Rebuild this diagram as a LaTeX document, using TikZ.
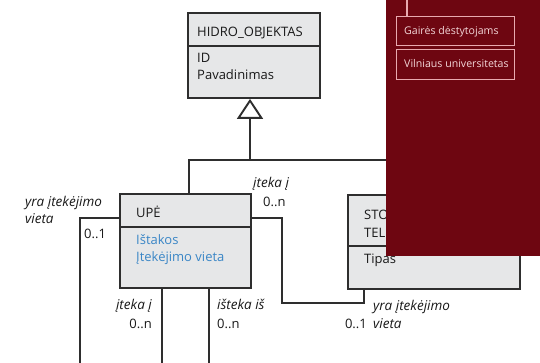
\documentclass[tikz,border=0pt]{standalone}
\usepackage{fontspec}
\setmainfont{Open Sans}
\usetikzlibrary{arrows.meta}
\definecolor{boxfill}{HTML}{E6E7E8}
\definecolor{linec}{HTML}{2E2E2E}
\definecolor{attrblue}{HTML}{3A86C6}
\definecolor{panelred}{HTML}{6E0611}
\definecolor{panelline}{HTML}{E8A9AF}
\definecolor{paneltext}{HTML}{F3D6D8}
\begin{document}
\begin{tikzpicture}[x=1pt,y=-1pt,
  box/.style={draw=linec, fill=boxfill, line width=1.9pt, inner sep=0pt, anchor=north west},
  conn/.style={draw=linec, line width=1.9pt},
  txt/.style={font=\fontsize{13}{15}\selectfont, inner sep=0pt, text=black!90},
  attr/.style={font=\fontsize{13}{15}\selectfont, inner sep=0pt, text=attrblue},
  lbl/.style={font=\fontsize{13.5}{15}\selectfont\itshape, inner sep=0pt, text=black!90},
  pbox/.style={draw=panelline, line width=1.1pt, fill=panelred, inner sep=0pt, anchor=north west,
    minimum width=118pt, minimum height=29pt},
  ptxt/.style={font=\fontsize{10.6}{12}\selectfont, inner sep=0pt, text=paneltext, anchor=base west},
]
\useasboundingbox (0,0) rectangle (540,363);
\clip (0,0) rectangle (540,363);
\fill[white] (0,0) rectangle (540,363);

% boxes
\node[box, minimum width=132pt, minimum height=33pt] (hidroH) at (187,12) {};
\node[box, minimum width=132pt, minimum height=52pt] (hidroB) at (187,45) {};
\node[box, minimum width=131pt, minimum height=33pt] (upeH) at (119,193) {};
\node[box, minimum width=131pt, minimum height=61pt] (upeB) at (119,226) {};
\node[box, minimum width=172pt, minimum height=51pt] (stoH) at (347,194) {};
\node[box, minimum width=172pt, minimum height=43pt] (stoB) at (347,245) {};

% box texts
\node[txt, anchor=base west] (hidroT) at (197,36.5) {HIDRO\_OBJEKTAS};
\node[txt, anchor=base west] (hidroA1) at (197,62.5) {ID};
\node[txt, anchor=base west] (hidroA2) at (197,79.5) {Pavadinimas};
\node[txt, anchor=base west] (upeT) at (136,217.5) {UPĖ};
\node[attr, anchor=base west] (upeA1) at (136,244) {Ištakos};
\node[attr, anchor=base west] (upeA2) at (136,261) {Įtekėjimo vieta};
\node[txt, anchor=base west] (stoT1) at (364,220) {STO};
\node[txt, anchor=base west] (stoT2) at (364,237) {TEL};
\node[txt, anchor=base west] (stoA) at (364,263) {Tipas};

% connector coordinates
\coordinate (gl) at (189,160);
\coordinate (gj) at (250,160);
\coordinate (gr) at (433,160);
\coordinate (la) at (80,218);
\coordinate (lb) at (80,363.5);
\coordinate (lc) at (162,363.5);
\coordinate (ia) at (209,363.5);
\coordinate (ib) at (560,363.5);
\coordinate (ra) at (282,218);
\coordinate (rb) at (282,303);
\coordinate (rc) at (364,303);

% generalization
\draw[conn] (upeH.north -| gl) -- (gl) -- (gr) -- (gr |- stoH.north);
\draw[conn, -{Triangle[open, fill=white, length=20pt, width=26pt, line width=1.9pt]}] (gj) -- (gj |- hidroB.south);

% self association (left loop)
\draw[conn] (upeH.west |- la) -- (la) -- (lb) -- (lc) -- (lc |- upeB.south);
% isteka is
\draw[conn] (upeB.south -| ia) -- (ia) -- (ib);
% upe - sto
\draw[conn] (upeH.east |- ra) -- (ra) -- (rb) -- (rc) -- (rc |- stoB.south);

% association labels
\node[lbl, anchor=base west] (l1a) at (25,207) {yra įtekėjimo};
\node[lbl, anchor=base west] (l1b) at (25,223) {vieta};
\node[txt, anchor=base west] (m1) at (84,238) {0..1};
\node[lbl, anchor=base east] (l2) at (152,309) {įteka į};
\node[txt, anchor=base east] (m2) at (152,328) {0..n};
\node[lbl, anchor=base west] (l3) at (217,309) {išteka iš};
\node[txt, anchor=base west] (m3) at (217,328) {0..n};
\node[lbl, anchor=base west] (l4) at (253,188) {įteka į};
\node[txt, anchor=base west] (m4) at (263,207) {0..n};
\node[lbl, anchor=base west] (l5a) at (373,310) {yra įtekėjimo};
\node[lbl, anchor=base west] (l5b) at (373,328) {vieta};
\node[txt, anchor=base east] (m5) at (367,328) {0..1};

% red panel
\fill[panelred] (386,0) rectangle (540,256);
\node[pbox] (pb1) at (396,16) {};
\node[pbox, minimum height=30pt] (pb2) at (396,49) {};
\coordinate (pt) at (407,0);
\draw[draw=panelline, line width=1.1pt] (pt) -- (pt |- pb1.north);
\node[ptxt] (pt1) at (404,35) {Gairės dėstytojams};
\node[ptxt] (pt2) at (404,67.5) {Vilniaus universitetas};
\end{tikzpicture}
\end{document}
